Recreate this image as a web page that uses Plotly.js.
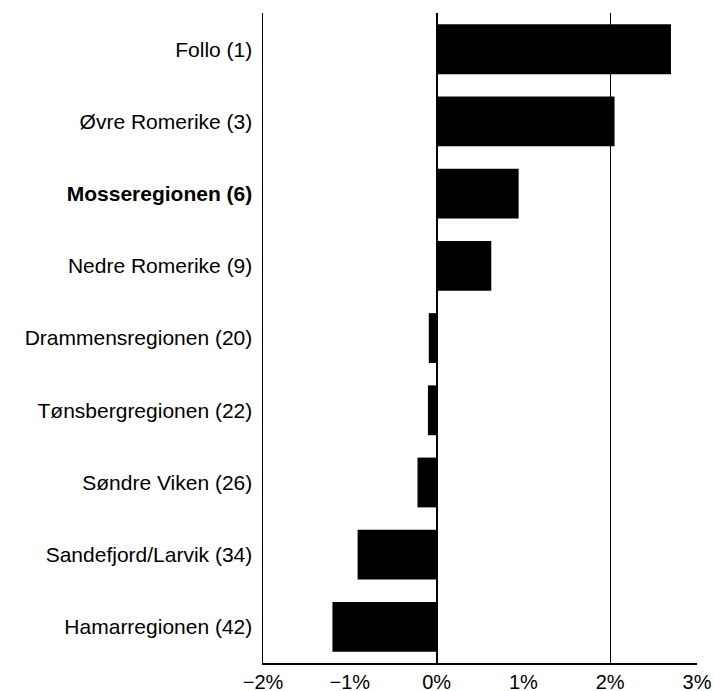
<!DOCTYPE html>
<html>
<head>
<meta charset="utf-8">
<script src="https://cdn.plot.ly/plotly-3.0.1.min.js"></script>
<style>html,body{margin:0;padding:0;background:#fff;}#chart{width:714px;height:691px;}</style>
</head>
<body>
<div id="chart"></div>
<script>
const regions = ["Follo (1)", "Øvre Romerike (3)", "Mosseregionen (6)", "Nedre Romerike (9)", "Drammensregionen (20)", "Tønsbergregionen (22)", "Søndre Viken (26)", "Sandefjord/Larvik (34)", "Hamarregionen (42)"];
const growth = [2.70, 2.05, 0.945, 0.63, -0.09, -0.10, -0.22, -0.91, -1.20];
const highlighted = "Mosseregionen (6)";
const xTickVals = [-2, -1, 0, 1, 2, 3];
const xTickText = ["−2%", "−1%", "0%", "1%", "2%", "3%"];
const gridValues = [2];

const labelText = regions.map(r => r === highlighted ? "<b>" + r + "</b>" : r);

const data = [{
  type: "bar",
  orientation: "h",
  x: growth,
  y: regions,
  marker: {color: "#000000", line: {width: 0}},
  hoverinfo: "skip"
}, {
  type: "scatter",
  mode: "markers",
  x: gridValues,
  y: [regions[0]],
  xaxis: "x2",
  marker: {opacity: 0},
  hoverinfo: "skip",
  showlegend: false
}];

const layout = {
  width: 714, height: 691,
  margin: {l: 263, r: 17, t: 13, b: 28},
  paper_bgcolor: "#ffffff", plot_bgcolor: "#ffffff",
  showlegend: false,
  bargap: 0.31,
  font: {family: "Liberation Sans, Arial, sans-serif", size: 21, color: "#000000"},
  xaxis: {
    range: [-2, 3], fixedrange: true,
    tickvals: xTickVals, ticktext: xTickText,
    showgrid: false,
    zeroline: true, zerolinecolor: "#000000", zerolinewidth: 2,
    showline: true, linecolor: "#000000", linewidth: 1.5,
    ticks: "", ticklen: 0,
    tickfont: {size: 20, color: "#000000"}
  },
  xaxis2: {
    range: [-2, 3], overlaying: "x", anchor: "y", fixedrange: true,
    tickvals: gridValues, showticklabels: false, ticks: "",
    showgrid: true, gridcolor: "#000000", gridwidth: 1,
    zeroline: false, showline: false
  },
  yaxis: {
    type: "category", autorange: "reversed",
    tickvals: regions, ticktext: labelText,
    showgrid: false, zeroline: false,
    showline: true, linecolor: "#000000", linewidth: 1.5,
    ticks: "", ticklen: 0, ticklabelstandoff: 5,
    tickfont: {size: 21, color: "#000000"}
  }
};

Plotly.newPlot("chart", data, layout, {displayModeBar: false, staticPlot: true});
</script>
</body>
</html>
